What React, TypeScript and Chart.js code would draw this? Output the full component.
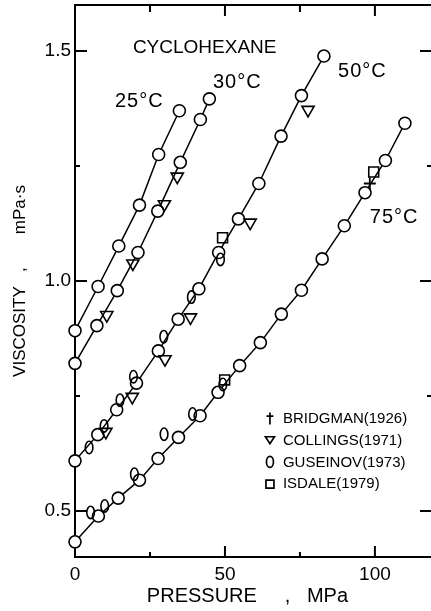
import React, { useEffect, useRef } from "react";
import { Chart, registerables } from "chart.js";

Chart.register(...registerables);

// ---- data (pressure in MPa, viscosity in mPa·s) ----
const pressure25 = [0, 7.7, 14.6, 21.5, 27.9, 34.8];
const viscosity25 = [0.892, 0.988, 1.076, 1.165, 1.275, 1.37];

const pressure30 = [0, 7.3, 14.1, 21.0, 27.6, 35.1, 41.8, 44.8];
const viscosity30 = [0.821, 0.903, 0.979, 1.062, 1.152, 1.258, 1.351, 1.396];

const pressure50 = [0, 7.6, 13.9, 20.5, 27.8, 34.4, 41.3, 47.9, 54.5, 61.3, 68.7, 75.5, 83.0];
const viscosity50 = [0.609, 0.666, 0.72, 0.778, 0.848, 0.917, 0.983, 1.062, 1.135, 1.212, 1.315, 1.403, 1.489];

const pressure75 = [0, 7.8, 14.4, 21.5, 27.7, 34.5, 41.7, 47.7, 54.9, 61.8, 68.8, 75.5, 82.4, 89.8, 96.7, 103.5, 110.0];
const viscosity75 = [0.433, 0.489, 0.528, 0.567, 0.614, 0.66, 0.707, 0.758, 0.816, 0.866, 0.928, 0.98, 1.048, 1.12, 1.192, 1.262, 1.343];

const bridgmanP = [98.3];
const bridgmanV = [1.212];

const collingsP = [10.6, 19.3, 29.8, 34.1, 10.3, 19.1, 30.0, 38.5, 58.4, 77.7];
const collingsV = [0.926, 1.038, 1.167, 1.227, 0.672, 0.748, 0.83, 0.921, 1.127, 1.372];

const guseinovP = [4.7, 9.7, 15.0, 19.5, 29.6, 38.8, 48.5, 5.2, 9.9, 19.8, 29.7, 39.2, 49.3];
const guseinovV = [0.638, 0.685, 0.741, 0.792, 0.879, 0.965, 1.047, 0.497, 0.511, 0.58, 0.667, 0.711, 0.775];

const isdaleP = [49.2, 49.9, 99.6];
const isdaleV = [1.094, 0.785, 1.237];

const xTickValues = [0, 50, 100];
const xMinorTicks = [25, 75];
const yTickValues = [0.5, 1.0, 1.5];
const yMinorTicks = [0.75, 1.25];

const chartTitle = "CYCLOHEXANE";
const seriesLabels = ["25°C", "30°C", "50°C", "75°C"];
const legendLabels = ["BRIDGMAN(1926)", "COLLINGS(1971)", "GUSEINOV(1973)", "ISDALE(1979)"];
const xTitle = "PRESSURE     ,   MPa  ";
const yTitle = "VISCOSITY   ,       mPa·s";

// label anchor positions in data coordinates
const titleAt = { x: 19.3, y: 1.496 };
const seriesLabelAt = [
  { x: 13.3, y: 1.378 },
  { x: 46.0, y: 1.42 },
  { x: 87.7, y: 1.443 },
  { x: 98.3, y: 1.126 },
];
const legendAt = { x: 65.0, y: 0.701 };

const FONT = "'Liberation Sans', Arial, sans-serif";
const GUSEINOV_INDEX = 2;

const framePlugin = {
  id: "frame",
  beforeDatasetsDraw(chart: any) {
    const { ctx, chartArea: a, scales } = chart;
    const xs = scales.x;
    const ys = scales.y;
    ctx.save();
    ctx.strokeStyle = "#000";
    ctx.lineWidth = 2;
    ctx.beginPath();
    ctx.moveTo(a.left, a.top);
    ctx.lineTo(a.left, a.bottom);
    ctx.lineTo(a.right, a.bottom);
    ctx.moveTo(a.left - 1, a.top);
    ctx.lineTo(a.right, a.top);
    xTickValues.forEach((v) => {
      if (v <= xs.min) return;
      const p = xs.getPixelForValue(v);
      ctx.moveTo(p, a.bottom);
      ctx.lineTo(p, a.bottom - 11);
      ctx.moveTo(p, a.top);
      ctx.lineTo(p, a.top + 11);
    });
    xMinorTicks.forEach((v) => {
      const p = xs.getPixelForValue(v);
      ctx.moveTo(p, a.bottom);
      ctx.lineTo(p, a.bottom - 5);
      ctx.moveTo(p, a.top);
      ctx.lineTo(p, a.top + 7);
    });
    yTickValues.forEach((v) => {
      const p = ys.getPixelForValue(v);
      ctx.moveTo(a.left, p);
      ctx.lineTo(a.left + 12, p);
      ctx.moveTo(a.right, p);
      ctx.lineTo(a.right - 11, p);
    });
    yMinorTicks.forEach((v) => {
      const p = ys.getPixelForValue(v);
      ctx.moveTo(a.left, p);
      ctx.lineTo(a.left + 5, p);
      ctx.moveTo(a.right, p);
      ctx.lineTo(a.right - 4, p);
    });
    ctx.stroke();
    ctx.restore();
  },
};

// draws the Guseinov points as tall open ellipses at the positions Chart.js computed
const ellipsePointPlugin = {
  id: "ellipsePoints",
  afterDatasetsDraw(chart: any) {
    const meta = chart.getDatasetMeta(GUSEINOV_INDEX);
    if (!meta || meta.hidden) return;
    const { ctx } = chart;
    ctx.save();
    ctx.strokeStyle = "#000";
    ctx.lineWidth = 1.6;
    meta.data.forEach((el: any) => {
      ctx.beginPath();
      ctx.ellipse(el.x, el.y, 3.8, 6.2, 0, 0, Math.PI * 2);
      ctx.stroke();
    });
    ctx.restore();
  },
};

const annotationPlugin = {
  id: "annotations",
  afterDatasetsDraw(chart: any) {
    const { ctx, scales } = chart;
    const xs = scales.x;
    const ys = scales.y;
    ctx.save();
    ctx.fillStyle = "#000";
    ctx.strokeStyle = "#000";
    ctx.textAlign = "left";
    ctx.textBaseline = "alphabetic";

    ctx.font = `19px ${FONT}`;
    ctx.fillText(chartTitle, xs.getPixelForValue(titleAt.x), ys.getPixelForValue(titleAt.y));

    ctx.font = `20px ${FONT}`;
    (ctx as any).letterSpacing = "1px";
    seriesLabels.forEach((t, i) => {
      ctx.fillText(t, xs.getPixelForValue(seriesLabelAt[i].x), ys.getPixelForValue(seriesLabelAt[i].y));
    });
    (ctx as any).letterSpacing = "0px";

    // legend
    const sx = xs.getPixelForValue(legendAt.x);
    const y0 = ys.getPixelForValue(legendAt.y);
    const tx = sx + 13;
    const rowH = 21.7;
    ctx.font = `15px ${FONT}`;
    ctx.textBaseline = "middle";
    ctx.lineWidth = 1.7;
    legendLabels.forEach((t, i) => {
      const y = y0 + i * rowH;
      ctx.beginPath();
      if (i === 0) {
        ctx.moveTo(sx, y - 6);
        ctx.lineTo(sx, y + 6);
        ctx.moveTo(sx - 3.5, y - 2.5);
        ctx.lineTo(sx + 3.5, y - 2.5);
      } else if (i === 1) {
        ctx.moveTo(sx - 4.5, y - 3.5);
        ctx.lineTo(sx + 4.5, y - 3.5);
        ctx.lineTo(sx, y + 3.5);
        ctx.closePath();
      } else if (i === 2) {
        ctx.ellipse(sx, y, 3.5, 5.5, 0, 0, Math.PI * 2);
      } else {
        ctx.rect(sx - 4, y - 3.5, 8, 8);
      }
      ctx.stroke();
      ctx.fillText(t, tx, y + 0.5);
    });
    ctx.restore();
  },
};

export default function App() {
  const ref = useRef<HTMLCanvasElement>(null);

  useEffect(() => {
    const canvas = ref.current;
    if (!canvas) return;
    const toPts = (xs: number[], ys: number[]) => xs.map((x, i) => ({ x, y: ys[i] }));

    const circleSeries = (label: string, xs: number[], ys: number[]) => ({
      label,
      data: toPts(xs, ys),
      showLine: true,
      borderColor: "#000",
      borderWidth: 1.5,
      pointStyle: "circle",
      pointRadius: 6,
      pointBorderWidth: 1.6,
      pointBackgroundColor: "#fff",
      pointBorderColor: "#000",
      clip: false,
    });

    const markerSeries = (label: string, xs: number[], ys: number[], extra: any) => ({
      label,
      data: toPts(xs, ys),
      showLine: false,
      pointBorderColor: "#000",
      pointBackgroundColor: "rgba(0,0,0,0)",
      pointBorderWidth: 1.6,
      clip: false,
      ...extra,
    });

    const chart = new Chart(canvas, {
      type: "scatter",
      data: {
        datasets: [
          markerSeries(legendLabels[0], bridgmanP, bridgmanV, { pointStyle: "cross", pointRadius: 6, pointBorderWidth: 1.8 }),
          markerSeries(legendLabels[1], collingsP, collingsV, { pointStyle: "triangle", pointRotation: 180, pointRadius: 7 }),
          markerSeries(legendLabels[2], guseinovP, guseinovV, { pointStyle: "circle", pointRadius: 0 }),
          markerSeries(legendLabels[3], isdaleP, isdaleV, { pointStyle: "rect", pointRadius: 7 }),
          circleSeries(seriesLabels[0], pressure25, viscosity25),
          circleSeries(seriesLabels[1], pressure30, viscosity30),
          circleSeries(seriesLabels[2], pressure50, viscosity50),
          circleSeries(seriesLabels[3], pressure75, viscosity75),
        ] as any,
      },
      options: {
        responsive: false,
        animation: false,
        devicePixelRatio: 1,
        layout: { autoPadding: false, padding: { top: 5, left: 0, right: 0, bottom: 0 } },
        plugins: {
          legend: { display: false },
          tooltip: { enabled: false },
        },
        scales: {
          x: {
            type: "linear",
            min: 0,
            max: 118.7,
            grid: { display: false, drawTicks: false },
            border: { display: false },
            afterBuildTicks: (scale: any) => {
              scale.ticks = xTickValues.map((v) => ({ value: v }));
            },
            afterFit: (scale: any) => {
              scale.height = 54;
              scale.paddingLeft = 0;
              scale.paddingRight = 0;
            },
            ticks: {
              autoSkip: false,
              maxRotation: 0,
              padding: 6,
              color: "#000",
              font: { family: FONT, size: 19 },
              callback: (v: any) => String(v),
            },
            title: {
              display: true,
              text: xTitle,
              color: "#000",
              font: { family: FONT, size: 20 },
              padding: { top: 0, bottom: 3 },
            },
          },
          y: {
            type: "linear",
            min: 0.4,
            max: 1.6,
            grid: { display: false, drawTicks: false },
            border: { display: false },
            afterBuildTicks: (scale: any) => {
              scale.ticks = yTickValues.map((v) => ({ value: v }));
            },
            afterFit: (scale: any) => {
              scale.width = 75;
              scale.paddingTop = 0;
              scale.paddingBottom = 0;
            },
            ticks: {
              autoSkip: false,
              padding: 4,
              color: "#000",
              font: { family: FONT, size: 19 },
              callback: (v: any) => Number(v).toFixed(1),
            },
            title: {
              display: true,
              text: yTitle,
              color: "#000",
              font: { family: FONT, size: 17 },
              padding: { top: 10, bottom: 0 },
            },
          },
        },
      } as any,
      plugins: [framePlugin, ellipsePointPlugin, annotationPlugin],
    });

    return () => chart.destroy();
  }, []);

  return (
    <div style={{ position: "absolute", left: 0, top: 0, width: 431, height: 611, background: "#fff" }}>
      <canvas ref={ref} width={431} height={611} style={{ display: "block" }} />
    </div>
  );
}
